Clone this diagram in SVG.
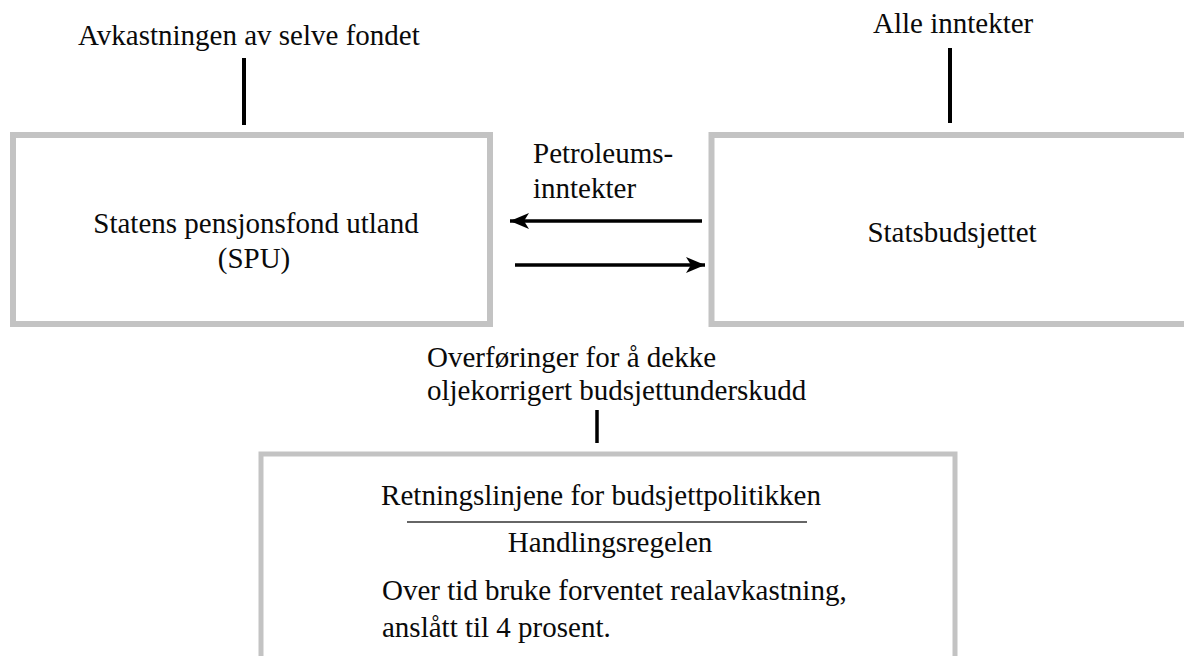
<svg xmlns="http://www.w3.org/2000/svg" width="1184" height="656" viewBox="0 0 1184 656">
<style>
.box{fill:#fff;stroke:#c3c3c3;stroke-width:6}
.t{font-family:"Liberation Serif","Times New Roman",serif;font-size:29px;fill:#0a0a0a}
.c{text-anchor:middle}
.ln{stroke:#000;stroke-width:4;fill:none}
.ar{stroke:#000;stroke-width:3.5;fill:none}
</style>
<defs>
<marker id="ah" markerUnits="userSpaceOnUse" markerWidth="22" markerHeight="20" refX="19" refY="10" orient="auto">
<path d="M0,2 L19,10 L0,18 L5,10 Z" fill="#000"/>
</marker>
</defs>
<rect width="1184" height="656" fill="#fff"/>
<g id="spu">
<rect class="box" x="13" y="135" width="477" height="189"/>
<text class="t c" x="256" y="233">Statens pensjonsfond utland</text>
<text class="t c" x="254" y="268">(SPU)</text>
</g>
<g id="statsbudsjettet">
<rect class="box" x="711.5" y="135" width="500" height="189"/>
<text class="t c" x="952" y="242">Statsbudsjettet</text>
</g>
<g id="handlingsregelen">
<rect class="box" x="261" y="454" width="694" height="260" style="stroke-width:5"/>
<text class="t c" x="601" y="505">Retningslinjene for budsjettpolitikken</text>
<line x1="407" y1="522" x2="807" y2="522" stroke="#333" stroke-width="1.5"/>
<text class="t c" x="610" y="552">Handlingsregelen</text>
<text class="t" x="382" y="600">Over tid bruke forventet realavkastning,</text>
<text class="t" x="382" y="637">anslått til 4 prosent.</text>
</g>
<g id="avkastning">
<text class="t" x="78" y="45">Avkastningen av selve fondet</text>
</g>
<g id="alle-inntekter">
<text class="t" x="873" y="33">Alle inntekter</text>
</g>
<g id="overforinger">
<text class="t" x="427" y="367">Overføringer for å dekke</text>
<text class="t" x="427" y="400">oljekorrigert budsjettunderskudd</text>
</g>
<g id="connectors">
<line class="ln" x1="244" y1="58" x2="244" y2="125"/>
<line class="ln" x1="950" y1="48" x2="950" y2="123"/>
<line class="ln" x1="597" y1="410" x2="597" y2="443" style="stroke-width:3.5"/>
<line class="ar" x1="702" y1="221" x2="510" y2="221" marker-end="url(#ah)"/>
<line class="ar" x1="515" y1="265" x2="705" y2="265" marker-end="url(#ah)"/>
<text class="t" x="533" y="163">Petroleums-</text>
<text class="t" x="533" y="198">inntekter</text>
</g>
</svg>
